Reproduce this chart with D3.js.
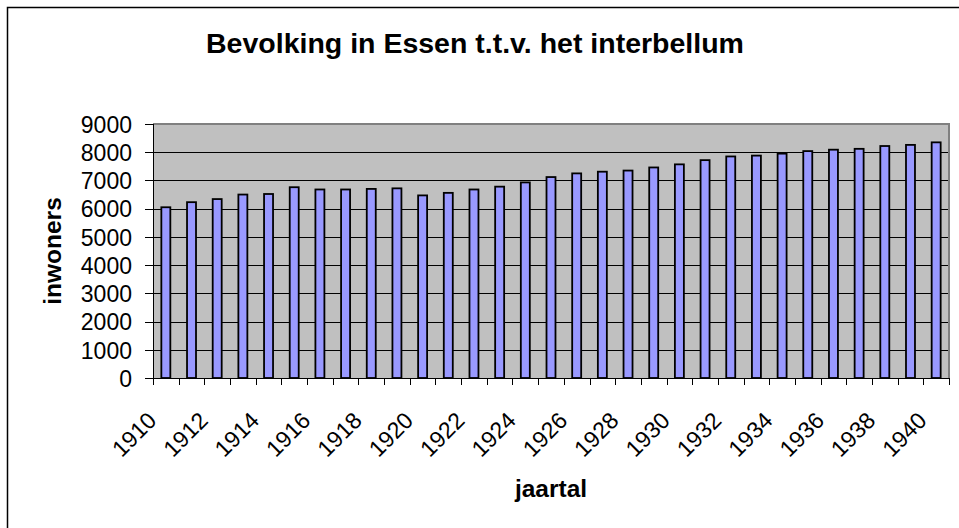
<!DOCTYPE html>
<html lang="nl">
<head>
<meta charset="UTF-8">
<title>Bevolking in Essen</title>
<style>
  html, body { margin: 0; padding: 0; background: #fff; }
  body { font-family: "Liberation Sans", Arial, Helvetica, sans-serif; }
  svg { display: block; }
  .grid line { stroke: #000; stroke-width: 1px; shape-rendering: crispEdges; }
  .axis path, .axis line { stroke: #000; shape-rendering: crispEdges; }
  .axis text { font-size: 23px; fill: #000; }
  .bar { fill: #9999ff; stroke: #000; stroke-width: 1.8px; }
  .title { font-size: 28.5px; font-weight: bold; }
  .axis-title { font-size: 24.5px; font-weight: bold; }
</style>
</head>
<body>
<script src="https://d3js.org/d3.v7.min.js"></script>
<script>
// jaartallen en inwoners
const years = [1910, 1911, 1912, 1913, 1914, 1915, 1916, 1917, 1918, 1919,
  1920, 1921, 1922, 1923, 1924, 1925, 1926, 1927, 1928, 1929,
  1930, 1931, 1932, 1933, 1934, 1935, 1936, 1937, 1938, 1939, 1940]
const inwoners = [6050, 6230, 6340, 6500, 6520, 6760, 6680, 6680, 6700, 6720,
  6470, 6560, 6680, 6780, 6930, 7120, 7250, 7310, 7350, 7460,
  7570, 7720, 7850, 7880, 7950, 8040, 8090, 8120, 8220, 8260, 8350]
const yTicks = [0, 1000, 2000, 3000, 4000, 5000, 6000, 7000, 8000, 9000]
const labelYears = [1910, 1912, 1914, 1916, 1918, 1920, 1922, 1924, 1926, 1928,
  1930, 1932, 1934, 1936, 1938, 1940]

const width = 959
const height = 528
const plot = {left: 153, top: 124, right: 949, bottom: 378}

const svg = d3.select('body').append('svg')
  .attr('width', width)
  .attr('height', height)

// kader rond de grafiek (rechts en onder valt buiten beeld)
svg.append('rect')
  .attr('x', 7.5).attr('y', 7.5)
  .attr('width', 960).attr('height', 540)
  .attr('fill', '#fff')
  .attr('stroke', '#000')
  .attr('stroke-width', 1.5)

const x = d3.scaleBand()
  .domain(years)
  .range([plot.left, plot.right])
  .padding(0)

const y = d3.scaleLinear()
  .domain([0, 9000])
  .range([plot.bottom, plot.top])

// plotvlak
svg.append('rect')
  .attr('x', plot.left).attr('y', plot.top)
  .attr('width', plot.right - plot.left)
  .attr('height', plot.bottom - plot.top)
  .attr('fill', '#c0c0c0')

svg.append('g')
  .attr('class', 'grid')
  .selectAll('line')
  .data(yTicks.filter(d => d > 0 && d < 9000))
  .join('line')
  .attr('x1', plot.left).attr('x2', plot.right)
  .attr('y1', d => Math.round(y(d)) + 0.5).attr('y2', d => Math.round(y(d)) + 0.5)

// rand boven en rechts
svg.append('path')
  .attr('d', `M${plot.left},${plot.top}H${plot.right}V${plot.bottom}`)
  .attr('fill', 'none')
  .attr('stroke', '#808080')
  .attr('stroke-width', 2)

const barW = x.bandwidth() * 0.35
svg.append('g')
  .selectAll('rect')
  .data(years)
  .join('rect')
  .attr('class', 'bar')
  .attr('x', d => x(d) + (x.bandwidth() - barW) / 2)
  .attr('y', (d, i) => y(inwoners[i]))
  .attr('width', barW)
  .attr('height', (d, i) => y(0) - y(inwoners[i]))

// y-as
svg.append('g')
  .attr('class', 'axis axis--y')
  .attr('transform', `translate(${plot.left},0)`)
  .call(d3.axisLeft(y).tickValues(yTicks).tickSize(8).tickPadding(13).tickFormat(d3.format('d')))
  .call(g => g.selectAll('.tick text').attr('dy', '0.36em'))

// x-as: streepjes op de grenzen van de categorieen
const xAxis = svg.append('g')
  .attr('class', 'axis axis--x')
xAxis.append('line')
  .attr('x1', plot.left).attr('x2', plot.right)
  .attr('y1', plot.bottom).attr('y2', plot.bottom)
xAxis.selectAll('line.tick')
  .data(years.concat([null]))
  .join('line')
  .attr('class', 'tick')
  .attr('x1', d => d === null ? plot.right : Math.round(x(d)) + 0.5)
  .attr('x2', d => d === null ? plot.right : Math.round(x(d)) + 0.5)
  .attr('y1', plot.bottom).attr('y2', plot.bottom + 7)

xAxis.selectAll('text')
  .data(labelYears)
  .join('text')
  .attr('text-anchor', 'end')
  .attr('transform', d => `translate(${x(d) + x.bandwidth() / 2 - 8},${plot.bottom + 44}) rotate(-45)`)
  .text(d => d)

// titels
svg.append('text')
  .attr('class', 'title')
  .attr('x', 475).attr('y', 53)
  .attr('text-anchor', 'middle')
  .text('Bevolking in Essen t.t.v. het interbellum')

svg.append('text')
  .attr('class', 'axis-title')
  .attr('text-anchor', 'middle')
  .attr('transform', 'translate(61,251) rotate(-90)')
  .text('inwoners')

svg.append('text')
  .attr('class', 'axis-title')
  .attr('text-anchor', 'middle')
  .attr('x', (plot.left + plot.right) / 2).attr('y', 497)
  .text('jaartal')
</script>
</body>
</html>
